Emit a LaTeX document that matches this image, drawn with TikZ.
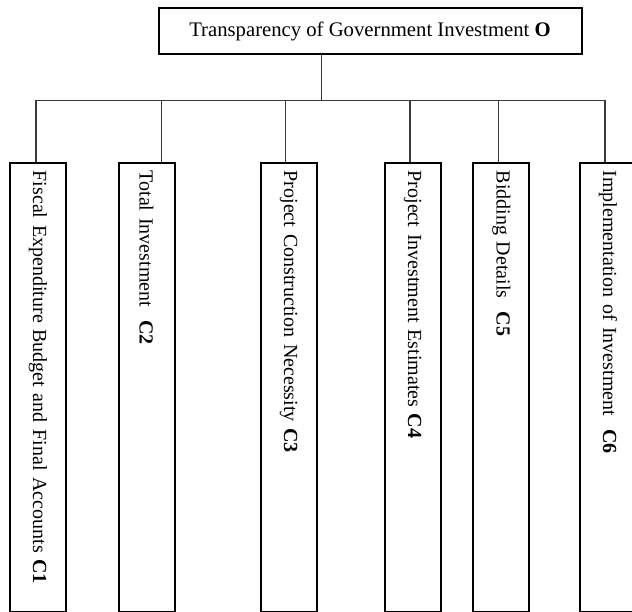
\documentclass[tikz,border=0pt]{standalone}
\usepackage{fontspec}
\setmainfont{Liberation Serif}
\usetikzlibrary{positioning,calc}
\definecolor{inkline}{HTML}{3A3A3A}

\begin{document}
\begin{tikzpicture}[
    x=1pt, y=-1pt,
    font=\fontsize{20}{24}\selectfont,
    box/.style={draw=black, line width=2pt, inner sep=0pt},
    goal/.style={box, minimum width=423pt, minimum height=46pt,
                 font=\fontsize{20.7}{24}\selectfont},
    crit/.style={box, rotate=-90, anchor=west, minimum width=449pt,
                 minimum height=56pt, text width=433pt, align=left},
    link/.style={draw=inkline, line width=1.2pt},
  ]
  \useasboundingbox (0,0) rectangle (632,612);

  \node[goal] (goal) at (370,31.5) {Transparency of Government Investment \textbf{O}};

  \node[crit] (c1) at (38,161.7)    {Fiscal Expenditure Budget and Final Accounts \textbf{C1}};
  \node[crit] (c2) at (146.5,161.7) {Total Investment\ \ \textbf{C2}};
  \node[crit] (c3) at (288.5,161.7) {Project Construction Necessity \textbf{C3}};
  \node[crit] (c4) at (412.5,161.7) {Project Investment Estimates \textbf{C4}};
  \node[crit] (c5) at (501.3,161.7) {Bidding Details\ \ \textbf{C5}};
  \node[crit] (c6) at (608,161.7)   {Implementation of Investment\ \ \textbf{C6}};

  % tree links
  \coordinate (hub) at (321.7,100.5);
  \foreach \i/\x in {1/36,2/161.7,3/285.7,4/410,5/498.3,6/605}
    \coordinate (t\i) at (\x,100.5);
  \draw[link] (goal.south -| hub) -- (hub);
  \draw[link] (t1) -- (t6);
  \foreach \i in {1,...,6}
    \draw[link] (t\i) -- (c\i.west -| t\i);
\end{tikzpicture}
\end{document}
